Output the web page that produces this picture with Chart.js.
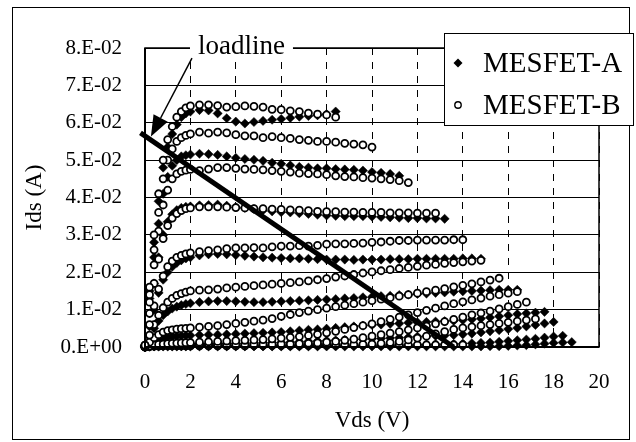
<!DOCTYPE html>
<html>
<head>
<meta charset="UTF-8">
<title>MESFET Ids-Vds</title>
<script src="https://cdn.jsdelivr.net/npm/chart.js@4.4.0/dist/chart.umd.min.js"></script>
<style>
    body { margin: 0; padding: 0; background: #fff; }
</style>
</head>
<body>
<canvas id="ivChart" width="636" height="442"></canvas>
<script>
// Vds sweep points (V), finer in the linear region
var vds = [0, 0.2, 0.4, 0.6, 0.8, 1, 1.2, 1.4, 1.6, 1.8, 2,
           2.4, 2.8, 3.2, 3.6, 4, 4.4, 4.8, 5.2, 5.6, 6, 6.4, 6.8, 7.2, 7.6, 8, 8.4, 8.8, 9.2, 9.6, 10,
           10.4, 10.8, 11.2, 11.6, 12, 12.4, 12.8, 13.2, 13.6, 14, 14.4, 14.8, 15.2, 15.6, 16, 16.4, 16.8,
           17.2, 17.6, 18, 18.4, 18.8];

// MESFET-A, Ids in mA, one array per gate bias
var a1 = [0.5, 15, 28, 39, 48, 53.5, 57, 59.5, 61.5, 62.5, 63,
          63.4, 63.3, 62.5, 61.2, 60.3, 59.8, 60.2, 60.5, 60.8, 61, 61.3, 61.6, 61.8, 62, 62.3, 63];
var a2 = [0.4, 13, 24, 33, 41, 45.5, 48.5, 50, 51, 51.3, 51.5,
          51.7, 51.6, 51.4, 51, 50.6, 50.3, 50.1, 49.8, 49.3, 49, 48.6, 48.2, 48, 47.8, 47.8, 47.6, 47.5,
          47.4, 47.2, 46.8, 46.6, 46.3, 45.8];
var a3 = [0.3, 9, 17, 24, 30, 33.5, 35.5, 36.6, 37.2, 37.5, 37.6,
          37.9, 38, 38.1, 37.8, 37.4, 37.2, 36.9, 36.6, 36.3, 36.1, 36, 35.8, 35.6, 35.4, 35.2, 35.1, 35,
          35, 35, 34.9, 34.8, 34.7, 34.6, 34.5, 34.5, 34.4, 34.4, 34.3];
var a4 = [0.2, 5.5, 10, 14.5, 18, 20, 21.5, 22.5, 23.2, 23.7, 24,
          24.5, 24.8, 24.9, 24.8, 24.6, 24.4, 24.2, 24, 23.9, 23.8, 23.7, 23.7, 23.6, 23.5, 23.4, 23.4, 23.4,
          23.3, 23.4, 23.4, 23.4, 23.5, 23.5, 23.5, 23.6, 23.6, 23.6, 23.6, 23.6, 23.7, 23.7, 23.6];
var a5 = [0.1, 2.7, 5, 7, 8.5, 9.5, 10.3, 10.8, 11.2, 11.5, 11.7,
          12, 12.2, 12.3, 12.3, 12.2, 12.1, 12, 12, 12.1, 12.2, 12.3, 12.4, 12.5, 12.6, 12.7, 12.8, 13,
          13.1, 13.3, 13.4, 13.6, 13.7, 13.9, 14, 14.2, 14.3, 14.5, 14.6, 14.8, 14.9, 15, 15.1, 15.2, 15.3,
          15.3, 15.3];
var a6 = [0, 0.8, 1.5, 2, 2.4, 2.6, 2.8, 2.9, 3, 3.05, 3.1,
          3.2, 3.3, 3.3, 3.4, 3.5, 3.6, 3.7, 3.8, 3.9, 4, 4.2, 4.4, 4.6, 4.7, 4.9, 5.1, 5.3, 5.5, 5.7, 5.9,
          6, 6.2, 6.3, 6.5, 6.6, 6.7, 6.8, 6.9, 7, 7.2, 7.4, 7.6, 7.9, 8.2, 8.5, 8.8, 9, 9.2, 9.4];
var a7 = [0, 0.3, 0.5, 0.6, 0.7, 0.75, 0.8, 0.8, 0.8, 0.85, 0.9,
          0.9, 0.9, 1, 1, 1, 1, 1.1, 1.1, 1.2, 1.2, 1.3, 1.4, 1.5, 1.6, 1.7, 1.8, 1.9, 2, 2.1, 2.2,
          2.3, 2.4, 2.5, 2.6, 2.8, 2.9, 3, 3.1, 3.2, 3.4, 3.6, 3.9, 4.2, 4.5, 4.8, 5.1, 5.5, 5.9, 6.3, 6.7];
var a8 = [0, 0.1, 0.2, 0.25, 0.3, 0.3, 0.3, 0.3, 0.3, 0.3, 0.3,
          0.3, 0.3, 0.3, 0.3, 0.3, 0.3, 0.3, 0.3, 0.3, 0.3, 0.3, 0.3, 0.3, 0.3, 0.4, 0.4, 0.4, 0.4, 0.4, 0.4,
          0.5, 0.5, 0.5, 0.5, 0.6, 0.6, 0.7, 0.7, 0.8, 0.9, 1, 1.1, 1.2, 1.4, 1.6, 1.8, 2, 2.2, 2.5, 2.8, 3];
var a9 = [0, 0.1, 0.15, 0.15, 0.15, 0.15, 0.15, 0.15, 0.15, 0.15, 0.15,
          0.15, 0.15, 0.15, 0.15, 0.15, 0.15, 0.15, 0.15, 0.15, 0.15, 0.15, 0.15, 0.15, 0.15, 0.15, 0.15, 0.15,
          0.15, 0.15, 0.15, 0.15, 0.15, 0.15, 0.15, 0.15, 0.15, 0.15, 0.15, 0.15, 0.15, 0.15, 0.15,
          0.2, 0.2, 0.3, 0.4, 0.5, 0.7, 0.9, 1.1, 1.2, 1.3];

// MESFET-B, Ids in mA
var b1 = [0.5, 16, 30, 41, 50, 55.5, 59, 61.5, 63, 64, 64.5,
          64.8, 64.8, 64.6, 64.2, 64.3, 64.5, 64.4, 64.2, 63.6, 63.5, 63.2, 63, 62.6, 62.3, 62.1, 61.5];
var b2 = [0.5, 14, 26, 36, 45, 50, 53, 55, 56, 56.6, 57,
          57.5, 57.2, 57.5, 57.3, 56.8, 56.5, 56.5, 56, 56.3, 56, 55.8, 55.5, 55.3, 55, 55, 54.8, 54.5,
          54.3, 54.1, 53.5];
var b3 = [0.3, 12, 22, 31, 38, 42, 45, 46.3, 47, 47.3, 47.5,
          47.2, 47.6, 48, 48, 47.8, 47.6, 47.5, 47.4, 47.2, 47, 46.8, 46.5, 46.4, 46.3, 46.1, 45.8, 45.6,
          45.5, 45.3, 45.2, 45, 44.8, 44.5, 44];
var b4 = [0.3, 9, 17, 23.5, 29, 32.5, 34.5, 35.7, 36.5, 37, 37.2,
          37.5, 37.5, 37.5, 37.4, 37.3, 37.2, 37, 37, 36.9, 36.8, 36.7, 36.6, 36.5, 36.3, 36.2, 36.2, 36.1,
          36.1, 36, 36, 36, 35.9, 35.9, 35.9, 35.8, 35.8, 35.8];
var b5 = [0.2, 6, 11, 15.5, 19, 21.5, 23, 24, 24.5, 24.9, 25.2,
          25.5, 25.8, 26, 26.3, 26.5, 26.5, 26.6, 26.5, 26.8, 27, 27, 27.1, 27, 27.2, 27.5, 27.6, 27.6,
          27.7, 27.8, 28, 28.1, 28.3, 28.5, 28.5, 28.6, 28.6, 28.6, 28.6, 28.7, 28.7];
var b6 = [0.2, 3.2, 6, 8.5, 10.5, 12, 13, 13.8, 14.3, 14.7, 15,
          15.2, 15.3, 15.5, 15.8, 16, 16.2, 16.4, 16.6, 16.8, 17, 17.2, 17.4, 17.7, 18, 18.3, 18.7, 19,
          19.4, 19.8, 20.1, 20.4, 20.7, 21, 21.3, 21.6, 21.9, 22.1, 22.4, 22.6, 22.8, 23, 23.2];
var b7 = [0.1, 1.3, 2.5, 3.3, 4, 4.4, 4.6, 4.8, 4.9, 5, 5.1,
          5.3, 5.5, 5.7, 6, 6.3, 6.6, 6.9, 7.2, 7.6, 8.2, 8.7, 9.2, 9.6, 10, 10.4, 10.8, 11.2, 11.6, 12,
          12.4, 12.8, 13.2, 13.6, 14, 14.4, 14.8, 15.2, 15.6, 16.1, 16.5, 16.9, 17.4, 17.9, 18.4];
var b8 = [0, 0.3, 0.5, 0.7, 0.8, 0.9, 1, 1.05, 1.1, 1.15, 1.2,
          1.3, 1.4, 1.5, 1.6, 1.7, 1.8, 1.9, 2, 2.2, 2.4, 2.6, 2.8, 3.1, 3.4, 3.8, 4.2, 4.7, 5.2, 5.7, 6.2,
          6.8, 7.4, 8, 8.6, 9.2, 9.8, 10.4, 11, 11.6, 12.1, 12.6, 13.1, 13.6, 14, 14.4, 14.8];
var b9 = [0, 0.2, 0.3, 0.4, 0.5, 0.5, 0.5, 0.5, 0.5, 0.5, 0.5,
          0.5, 0.6, 0.6, 0.6, 0.6, 0.6, 0.7, 0.7, 0.7, 0.8, 0.8, 0.9, 1, 1.1, 1.3, 1.5, 1.8, 2.1, 2.5, 2.9,
          3.3, 3.7, 4.1, 4.6, 5.1, 5.6, 6.2, 6.8, 7.4, 8, 8.6, 9.1, 9.6, 10.2, 10.8, 11.4, 12];
var b10 = [0, 0.1, 0.2, 0.25, 0.3, 0.3, 0.3, 0.3, 0.3, 0.3, 0.3,
           0.3, 0.3, 0.3, 0.3, 0.3, 0.3, 0.4, 0.4, 0.4, 0.4, 0.4, 0.4, 0.4, 0.5, 0.5, 0.5, 0.6, 0.6, 0.7, 0.8,
           1, 1.2, 1.5, 1.9, 2.4, 2.9, 3.5, 4.1, 4.7, 5.1, 5.4, 5.7, 6, 6.3, 6.6, 6.9, 7.2, 7.5];
var b11 = [0, 0.3, 0.5, 0.55, 0.6, 0.6, 0.6, 0.6, 0.6, 0.6, 0.6,
           0.6, 0.6, 0.6, 0.6, 0.6, 0.6, 0.6, 0.6, 0.6, 0.6, 0.6, 0.6, 0.6, 0.6, 0.6, 0.6, 0.6, 0.6, 0.6, 0.6,
           0.6, 0.6, 0.6, 0.6, 0.6, 0.6, 0.6, 0.6, 0.6, 0.6];

// load line end points (V, A)
var loadlineV = [-0.2, 13.6];
var loadlineI = [0.0573, 0.0];

var yTickLabels = ['0.E+00', '1.E-02', '2.E-02', '3.E-02', '4.E-02', '5.E-02', '6.E-02', '7.E-02', '8.E-02'];
var xTickLabels = ['0', '2', '4', '6', '8', '10', '12', '14', '16', '18', '20'];

var curvesA = [a1, a2, a3, a4, a5, a6, a7, a8, a9];
var curvesB = [b1, b2, b3, b4, b5, b6, b7, b8, b9, b10, b11];

var serif = "'Liberation Serif', 'Times New Roman', serif";

function toPoints(curve) {
    return curve.map(function (v, i) { return { x: vds[i], y: v / 1000 }; });
}

var datasets = [];

datasets.push({
    label: 'loadline',
    data: loadlineV.map(function (v, i) { return { x: v, y: loadlineI[i] }; }),
    showLine: true,
    borderColor: '#000',
    borderWidth: 5,
    pointRadius: 0,
    clip: false
});

curvesB.forEach(function (c) {
    datasets.push({
        label: 'MESFET-B',
        data: toPoints(c),
        showLine: false,
        pointStyle: 'circle',
        pointRadius: 3.5,
        pointBackgroundColor: '#fff',
        pointBorderColor: '#000',
        pointBorderWidth: 1.8,
        clip: 6
    });
});

curvesA.forEach(function (c) {
    datasets.push({
        label: 'MESFET-A',
        data: toPoints(c),
        showLine: false,
        pointStyle: 'rectRot',
        pointRadius: 4.6,
        pointBackgroundColor: '#000',
        pointBorderColor: '#000',
        pointBorderWidth: 0.5,
        clip: 6
    });
});

// frame, loadline label + arrow, legend box
var decorPlugin = {
    id: 'decor',
    beforeDraw: function (chart) {
        var ctx = chart.ctx;
        ctx.save();
        ctx.fillStyle = '#fff';
        ctx.fillRect(0, 0, chart.width, chart.height);
        ctx.strokeStyle = '#000';
        ctx.lineWidth = 1;
        ctx.strokeRect(12.5, 7.5, 617, 432);
        ctx.restore();
    },
    afterDraw: function (chart) {
        var ctx = chart.ctx;
        var area = chart.chartArea;
        var xs = chart.scales.x, ys = chart.scales.y;
        ctx.save();

        // plot frame
        ctx.strokeStyle = '#000';
        ctx.lineWidth = 1.5;
        ctx.strokeRect(area.left, area.top, area.right - area.left, area.bottom - area.top);
        ctx.lineWidth = 2;
        ctx.beginPath();
        ctx.moveTo(area.left, area.top);
        ctx.lineTo(area.left, area.bottom);
        ctx.lineTo(area.right, area.bottom);
        ctx.stroke();

        // loadline label
        var lx = xs.getPixelForValue(4.25), ly = ys.getPixelForValue(0.0803);
        ctx.font = '27px ' + serif;
        var tw = ctx.measureText('loadline').width;
        ctx.fillStyle = '#fff';
        ctx.fillRect(lx - tw / 2 - 8, ly - 16, tw + 16, 30);
        ctx.fillStyle = '#000';
        ctx.textAlign = 'center';
        ctx.textBaseline = 'middle';
        ctx.fillText('loadline', lx, ly);

        // arrow to the loadline
        var x1 = xs.getPixelForValue(2.07), y1 = ys.getPixelForValue(0.0773);
        var x2 = xs.getPixelForValue(0.26), y2 = ys.getPixelForValue(0.0563);
        var ang = Math.atan2(y2 - y1, x2 - x1);
        var headLen = 21, headW = 8;
        var bx = x2 - headLen * Math.cos(ang), by = y2 - headLen * Math.sin(ang);
        ctx.lineWidth = 1.5;
        ctx.beginPath();
        ctx.moveTo(x1, y1);
        ctx.lineTo(bx, by);
        ctx.stroke();
        ctx.beginPath();
        ctx.moveTo(x2, y2);
        ctx.lineTo(bx + headW * Math.sin(ang), by - headW * Math.cos(ang));
        ctx.lineTo(bx - headW * Math.sin(ang), by + headW * Math.cos(ang));
        ctx.closePath();
        ctx.fill();

        // legend
        ctx.fillStyle = '#fff';
        ctx.fillRect(444.5, 33.5, 189, 92);
        ctx.lineWidth = 1;
        ctx.strokeRect(444.5, 33.5, 189, 92);
        ctx.fillStyle = '#000';
        ctx.beginPath();
        ctx.moveTo(458, 58.5); ctx.lineTo(462.5, 63); ctx.lineTo(458, 67.5); ctx.lineTo(453.5, 63);
        ctx.closePath();
        ctx.fill();
        ctx.beginPath();
        ctx.arc(458, 105, 3.2, 0, Math.PI * 2);
        ctx.lineWidth = 1.4;
        ctx.stroke();
        ctx.font = '29px ' + serif;
        ctx.textAlign = 'left';
        ctx.textBaseline = 'middle';
        ctx.fillText('MESFET-A', 483, 64);
        ctx.fillText('MESFET-B', 483, 106);

        ctx.restore();
    }
};

var ctx = document.getElementById('ivChart').getContext('2d');
var ivChart = new Chart(ctx, {
    type: 'scatter',
    data: { datasets: datasets },
    options: {
        responsive: false,
        devicePixelRatio: 1,
        animation: false,
        layout: { padding: { left: 0, top: 48, right: 37, bottom: 0 } },
        plugins: {
            legend: { display: false },
            tooltip: { enabled: false }
        },
        scales: {
            x: {
                type: 'linear',
                min: 0,
                max: 20,
                afterFit: function (s) { s.height = 95; },
                ticks: {
                    stepSize: 2,
                    padding: 23,
                    color: '#000',
                    font: { family: serif, size: 21 },
                    callback: function (v, i) { return xTickLabels[i]; }
                },
                grid: { color: '#000', lineWidth: 1, drawTicks: false },
                border: { display: false, dash: [7, 7] },
                title: {
                    display: true,
                    text: 'Vds (V)',
                    color: '#000',
                    font: { family: serif, size: 23 },
                    padding: { top: 0, bottom: 7 }
                }
            },
            y: {
                type: 'linear',
                min: 0,
                max: 0.08,
                afterFit: function (s) { s.width = 145; },
                ticks: {
                    stepSize: 0.01,
                    padding: 23,
                    color: '#000',
                    font: { family: serif, size: 21 },
                    callback: function (v, i) { return yTickLabels[i]; }
                },
                grid: { color: '#000', lineWidth: 1, drawTicks: false },
                border: { display: false },
                title: {
                    display: true,
                    text: 'Ids (A)',
                    color: '#000',
                    font: { family: serif, size: 23 },
                    padding: { top: 21, bottom: 0 }
                }
            }
        }
    },
    plugins: [decorPlugin]
});
</script>
</body>
</html>
